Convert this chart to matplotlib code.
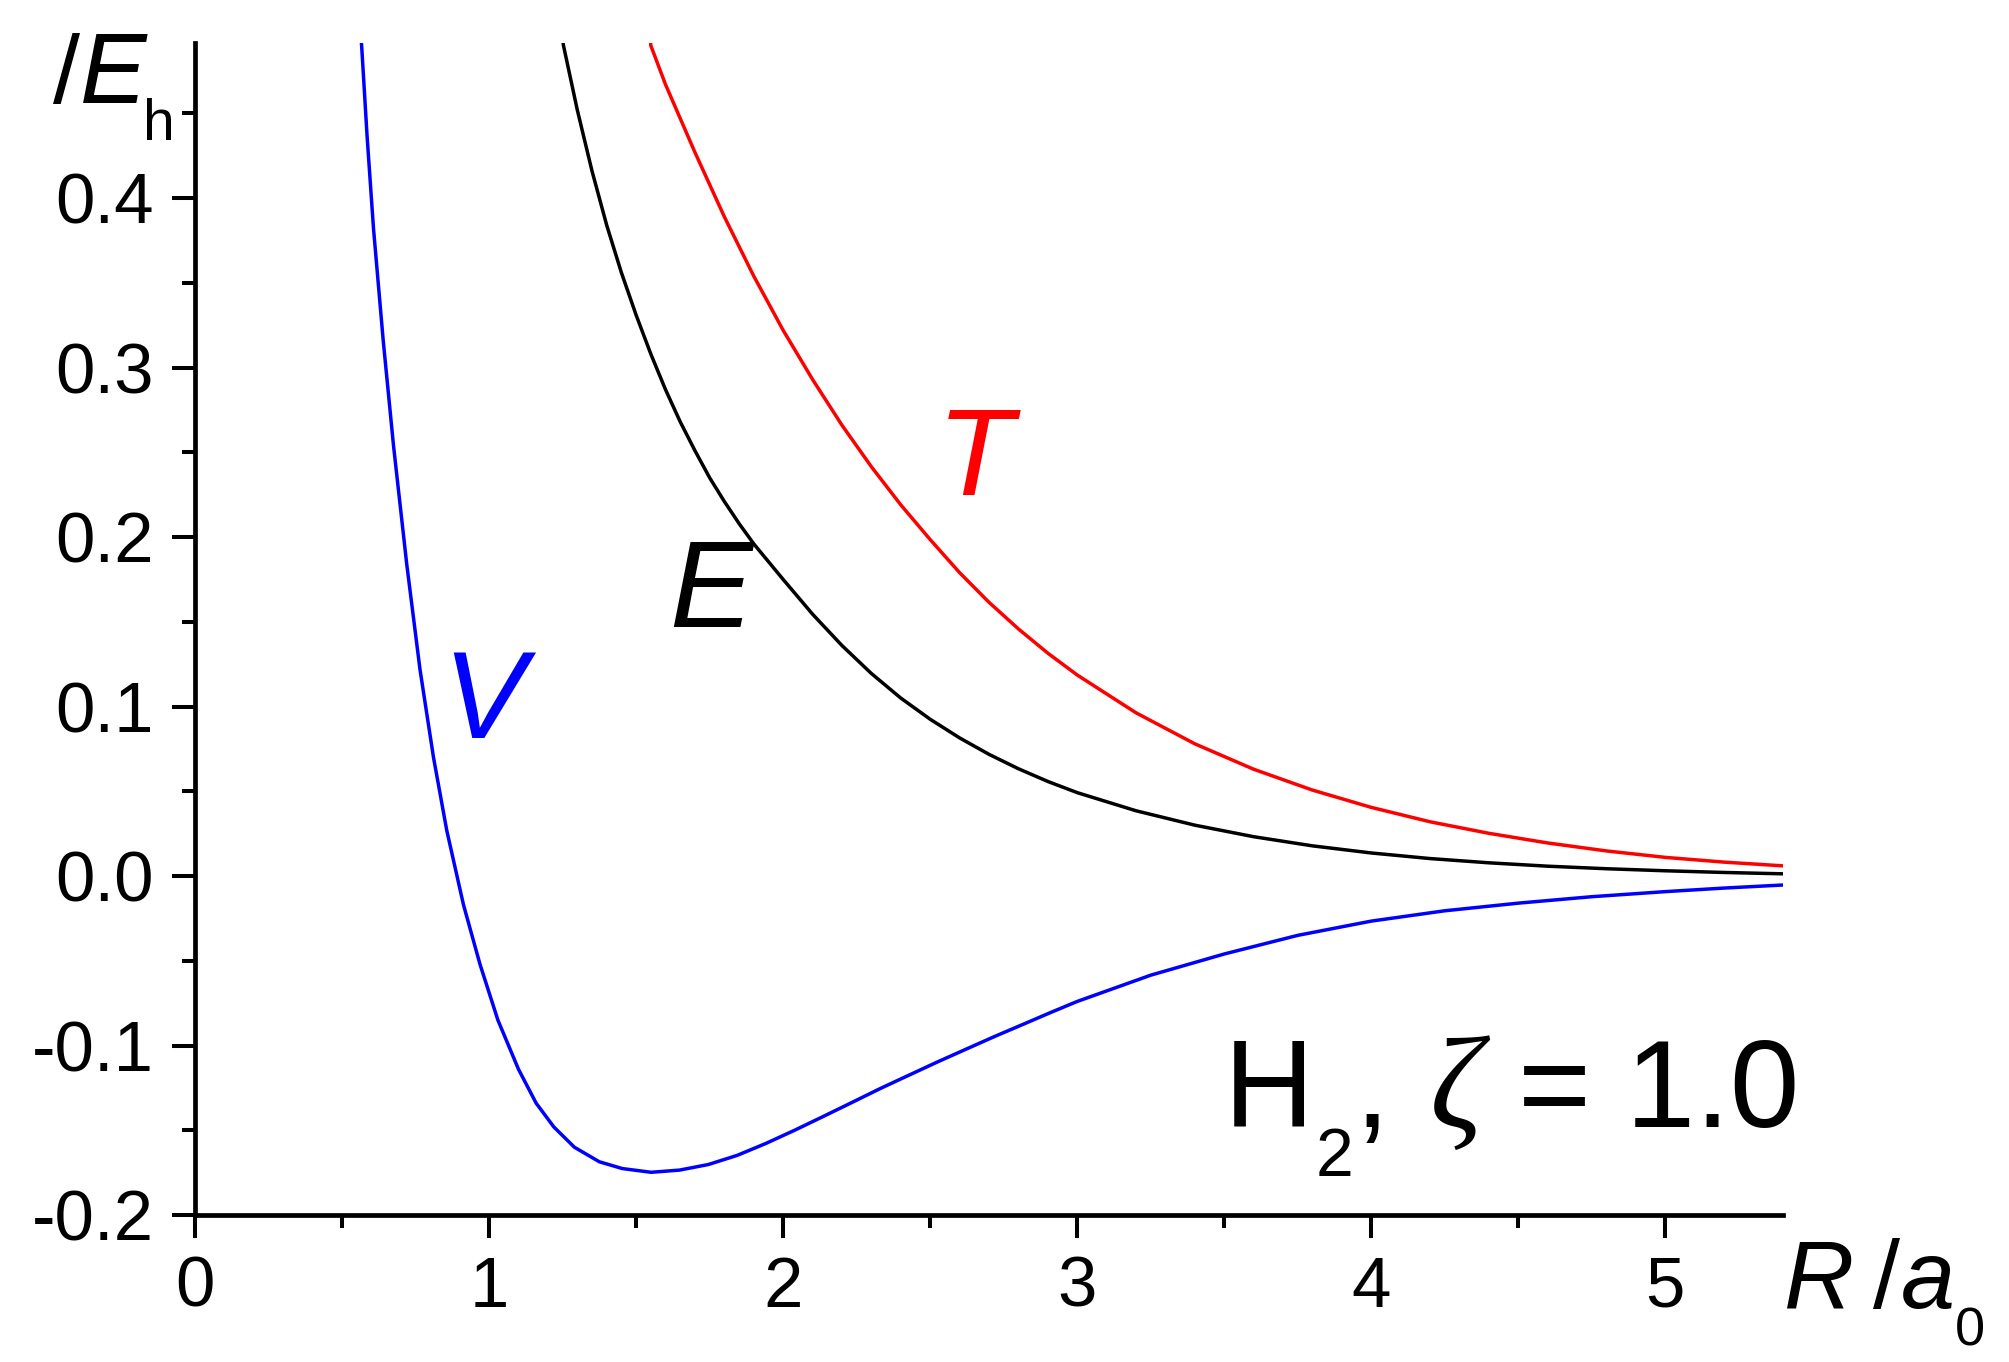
import matplotlib
matplotlib.use("Agg")
import matplotlib.pyplot as plt
from matplotlib.ticker import MultipleLocator

plt.rcParams['font.family'] = ['Liberation Sans', 'DejaVu Sans']

# values (R in a0, energies in Eh)
r_v = [0.560, 0.567, 0.585, 0.607, 0.640, 0.675, 0.720, 0.765, 0.811, 0.856,
       0.913, 0.969, 1.030, 1.100, 1.160, 1.220, 1.290, 1.375, 1.453, 1.551,
       1.648, 1.746, 1.844, 1.941, 2.039, 2.136, 2.234, 2.330, 2.429, 2.526,
       2.624, 2.720, 2.820, 2.910, 3.000, 3.250, 3.500, 3.750, 4.000, 4.250,
       4.500, 4.750, 5.000, 5.200, 5.400]
v_vals = [0.505, 0.489, 0.437, 0.382, 0.316, 0.254, 0.184, 0.122, 0.070, 0.027,
          -0.017, -0.052, -0.085, -0.114, -0.134, -0.148, -0.160, -0.1686, -0.1726, -0.1748,
          -0.1735, -0.1702, -0.1648, -0.1578, -0.1500, -0.1419, -0.1336, -0.1254, -0.1174, -0.1096,
          -0.1020, -0.0946, -0.0872, -0.0805, -0.0740, -0.0585, -0.0460, -0.0350, -0.0266, -0.0205,
          -0.0160, -0.0122, -0.0092, -0.0071, -0.0053]

r_e = [1.245, 1.253, 1.300, 1.350, 1.400, 1.450, 1.500, 1.550, 1.600, 1.650,
       1.700, 1.750, 1.800, 1.850, 1.900, 2.000, 2.100, 2.200, 2.300, 2.400,
       2.500, 2.600, 2.700, 2.800, 2.900, 3.000, 3.200, 3.400, 3.600, 3.800,
       4.000, 4.200, 4.400, 4.600, 4.800, 5.000, 5.200, 5.400]
e_vals = [0.500, 0.490, 0.452, 0.416, 0.384, 0.356, 0.331, 0.308, 0.287, 0.268,
          0.251, 0.235, 0.221, 0.208, 0.196, 0.175, 0.1545, 0.136, 0.1195, 0.105,
          0.0925, 0.0815, 0.0718, 0.0633, 0.0558, 0.0492, 0.0385, 0.0300, 0.0232, 0.0178,
          0.0136, 0.0103, 0.0078, 0.0058, 0.0043, 0.0031, 0.0021, 0.0013]

r_t = [1.545, 1.550, 1.600, 1.700, 1.800, 1.900, 2.000, 2.100, 2.200, 2.300,
       2.400, 2.500, 2.600, 2.700, 2.800, 2.900, 3.000, 3.200, 3.400, 3.600,
       3.800, 4.000, 4.200, 4.400, 4.600, 4.800, 5.000, 5.200, 5.400]
t_vals = [0.502, 0.490, 0.467, 0.427, 0.389, 0.354, 0.322, 0.293, 0.266, 0.2415,
          0.219, 0.1985, 0.179, 0.1615, 0.1458, 0.1315, 0.1186, 0.0963, 0.0780, 0.0630,
          0.0507, 0.0405, 0.0320, 0.0252, 0.0195, 0.0148, 0.0110, 0.0082, 0.0060]

W, H = 2009, 1362
fig = plt.figure(figsize=(W / 100, H / 100), dpi=100)
ax = fig.add_axes([195 / W, 1 - 1215 / H, (1783 - 195) / W, (1215 - 43) / H])


def px(x, y):
    # figure pixel (from top-left) -> figure fraction
    return x / W, 1 - y / H


lw = 2.5
ax.plot(r_v, v_vals, color='#0000ff', lw=lw, solid_joinstyle='round')
ax.plot(r_e, e_vals, color='black', lw=lw, solid_joinstyle='round')
ax.plot(r_t, t_vals, color='#ff0000', lw=lw, solid_joinstyle='round')

ax.set_xlim(0, 5.4)
ax.set_ylim(-0.2, 0.4915)
ax.xaxis.set_major_locator(MultipleLocator(1))
ax.xaxis.set_minor_locator(MultipleLocator(0.5))
ax.yaxis.set_major_locator(MultipleLocator(0.1))
ax.yaxis.set_minor_locator(MultipleLocator(0.05))
ax.yaxis.set_major_formatter(plt.FuncFormatter(lambda v, p: f"{v:.1f}".replace("-0.0", "0.0")))
ax.xaxis.set_major_formatter(plt.FuncFormatter(lambda v, p: f"{v:.0f}"))

for s in ['top', 'right']:
    ax.spines[s].set_visible(False)
for s in ['left', 'bottom']:
    ax.spines[s].set_linewidth(3.4)
ax.tick_params(which='major', direction='out', length=16.5, width=2.9, pad=13,
               labelsize=51)
ax.tick_params(which='minor', direction='out', length=9.5, width=2.9)

# axis labels assembled from pieces
fs_lab = 70
fig.text(*px(53, 103), "/", fontsize=fs_lab, va='baseline', ha='left')
fig.text(*px(80, 103), "E", fontsize=fs_lab + 2, style='italic', va='baseline', ha='left')
fig.text(*px(143, 140), "h", fontsize=41, va='baseline', ha='left')

fig.text(*px(1784, 1308), "R", fontsize=fs_lab, style='italic', va='baseline', ha='left')
fig.text(*px(1873, 1308), "/", fontsize=fs_lab, va='baseline', ha='left')
fig.text(*px(1901, 1308), "a", fontsize=fs_lab, style='italic', va='baseline', ha='left')
fig.text(*px(1955, 1345), "0", fontsize=39, va='baseline', ha='left')

# curve labels
fs_c = 90
fig.text(*px(484, 738), "V", fontsize=fs_c, style='italic', color='#0000ff',
         va='baseline', ha='center')
fig.text(*px(711, 627), "E", fontsize=fs_c, style='italic', color='black',
         va='baseline', ha='center')
fig.text(*px(975, 495), "T", fontsize=fs_c, style='italic', color='#ff0000',
         va='baseline', ha='center')

# annotation H2, zeta = 1.0
fs_a = 90
fig.text(*px(1224, 1127), "H", fontsize=fs_a, va='baseline', ha='left')
fig.text(*px(1316, 1176), "2", fontsize=49, va='baseline', ha='left')
fig.text(*px(1355, 1127), ",", fontsize=fs_a, va='baseline', ha='left')
fig.text(*px(1430, 1127), "\u03b6", fontsize=fs_a + 4, family=['Liberation Serif', 'DejaVu Serif'],
         style='italic', va='baseline', ha='left')
fig.text(*px(1518, 1127), "= 1.0", fontsize=fs_a, va='baseline', ha='left')

fig.savefig("out.png", dpi=100)
